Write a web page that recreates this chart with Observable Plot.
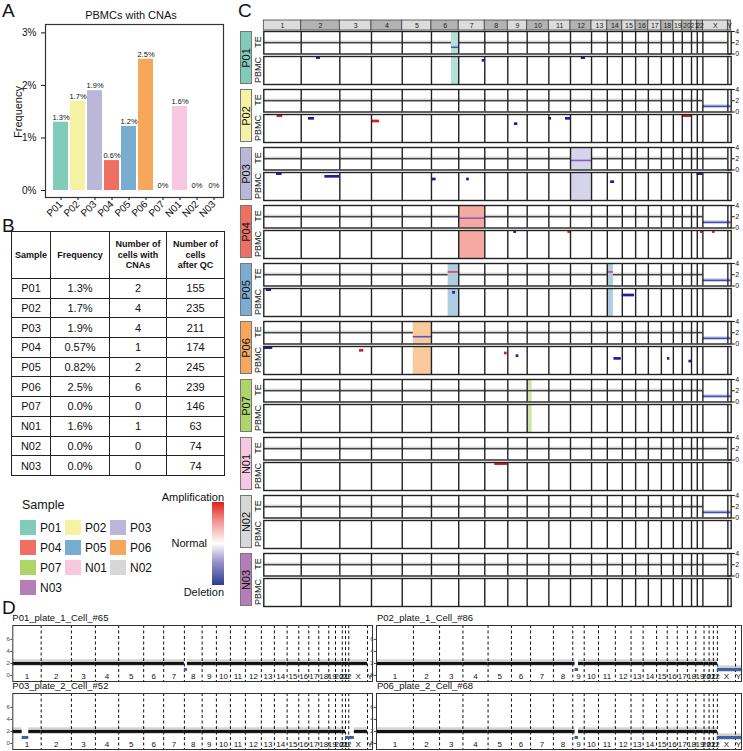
<!DOCTYPE html>
<html><head><meta charset="utf-8">
<script src="https://cdn.jsdelivr.net/npm/d3@7"></script>
<script src="https://cdn.jsdelivr.net/npm/@observablehq/plot@0.6"></script>
<style>
html,body{margin:0;padding:0;background:#fff;}
#root{position:relative;width:743px;height:751px;overflow:hidden;background:#fff;font-family:"Liberation Sans",Arial,sans-serif;color:#111;}
#root svg{max-width:none;}
.t{position:absolute;white-space:nowrap;line-height:1;}
table.tb{position:absolute;border-collapse:collapse;font-family:"Liberation Sans",Arial,sans-serif;table-layout:fixed;}
table.tb td{border:1.5px solid #222;text-align:center;padding:0;color:#111;}
</style></head>
<body><div id="root"></div>
<script>
const FONT = '"Liberation Sans", Arial, sans-serif';
// ---------------- data ----------------
const samples = ["P01","P02","P03","P04","P05","P06","P07","N01","N02","N03"];
const sampleColors = ["#80CBB9","#F6F2A4","#BBB7D9","#EF6F62","#78ACD0","#F7A75C","#AFD46A","#F8C7E0","#D7D7D7","#B67EB8"];
const sexes = ["F","M","F","M","M","M","M","F","M","F"];
const barFreq = [1.3,1.7,1.9,0.57,1.22,2.5,0,1.6,0,0];          // percent (bar heights)
const barLabels = ["1.3%","1.7%","1.9%","0.6%","1.2%","2.5%","0%","1.6%","0%","0%"];
const tableFreq = ["1.3%","1.7%","1.9%","0.57%","0.82%","2.5%","0.0%","1.6%","0.0%","0.0%"];
const tableCells = [2,4,4,1,2,6,0,1,0,0];
const tableQC = [155,235,211,174,245,239,146,63,74,74];
const chroms = ["1","2","3","4","5","6","7","8","9","10","11","12","13","14","15","16","17","18","19","20","21","22","X","Y"];
// panel C chromosome sizes (Mb-like units read from column widths)
const chromSizeC = [247,255,209,203,193,180,172,152,128,143,143,139,104,99,88,84,86,79,59,61,38,37,165,22];
// panel D bins per chromosome (left cells / right cells)
const binsDLeft  = [227,242,192,186,200,160,166,142,114,112,120,128,104,102,93,80,80,80,54,54,26,26,150,40];
const binsDRight = [294,208,186,200,186,152,182,154,91,114,134,125,96,107,85,80,80,67,66,40,34,32,144,48];
// highlighted regions in panel C: [sample, chr, start, end]
const highlightsC = [
  ["P01","6",132,180],["P02","15",0,8],["P03","12",0,139],["P04","7",0,172],
  ["P05","6",110,180],["P05","14",0,40],["P06","5",73,193],["P07","10",0,33]
];
// TE copy-number segments: [sample, chr, start, end, copy number]
const teSegments = [
  ["P01","6",132,180,1.2],["P03","12",0,139,1.7],["P04","7",0,172,1.75],
  ["P05","6",110,180,2.5],["P05","14",0,40,2.5],["P06","5",73,193,1.3]
];
// PBMC single-cell CNAs: [sample, chr, start, end, cell, type]
const pbmcEvents = [
  ["P01","2",101,127,1,"del"],["P01","7",155,172,2,"del"],["P01","12",71,99,1,"del"],
  ["P02","1",88,125,1,"amp"],["P02","2",48,88,2,"del"],["P02","4",5,53,3,"amp"],["P02","9",44,66,4,"del"],
  ["P02","11",2,18,2,"del"],["P02","11",110,143,2,"del"],["P02","20",0,61,1,"amp"],
  ["P03","1",84,121,1,"del"],["P03","2",156,255,2,"del"],["P03","6",5,31,3,"del"],["P03","7",52,70,3,"del"],
  ["P03","14",22,48,4,"del"],["P03","22",0,37,1,"del"],
  ["P04","9",40,58,1,"del"],["P04","11",126,143,1,"amp"],["P04","22",22,37,1,"amp"],["P04","X",64,80,1,"amp"],
  ["P05","1",16,51,1,"del"],["P05","6",140,158,2,"del"],["P05","15",0,81,3,"del"],
  ["P06","1",0,59,1,"del"],["P06","3",130,158,2,"amp"],["P06","8",130,148,3,"amp"],["P06","9",55,73,4,"del"],
  ["P06","14",44,92,5,"del"],["P06","18",40,56,5,"del"],["P06","20",44,61,6,"del"],
  ["N01","8",66,152,1,"amp"]
];
// panel D cells
const dCellNames = ["P01_plate_1_Cell_#65","P02_plate_1_Cell_#86","P03_plate_2_Cell_#52","P06_plate_2_Cell_#68"];
const dCellSex = ["F","M","F","M"];
// panel D segments: [cell, chr, start, end, copy number]
const dSegments = [
  ["P01_plate_1_Cell_#65","8",0,24,1],
  ["P02_plate_1_Cell_#86","9",18,46,1],
  ["P03_plate_2_Cell_#52","1",75,128,1],["P03_plate_2_Cell_#52","22",0,26,1],["P03_plate_2_Cell_#52","X",0,45,1],
  ["P06_plate_2_Cell_#68","9",18,46,1]
];
const teTicks = [0,2,4];
const dTicks = [0,2,4,6];
const legendTitle = "Sample";
const gradientLabels = ["Amplification","Normal","Deletion"];

// ---------------- helpers ----------------
const root = document.getElementById("root");
function put(node, left, top){ const d=document.createElement("div"); d.style.position="absolute"; d.style.left=left+"px"; d.style.top=top+"px"; d.appendChild(node); root.appendChild(d); return d; }
function txt(s, x, y, o={}){
  const d=document.createElement("div"); d.className="t"; d.textContent=s;
  d.style.left=x+"px"; d.style.top=y+"px"; d.style.fontSize=(o.size||10)+"px";
  if(o.weight) d.style.fontWeight=o.weight;
  const ax = o.anchor==="middle"?"-50%":o.anchor==="end"?"-100%":"0";
  d.style.transform=`translate(${ax},-50%)`;
  if(o.rotate) d.style.transform=`translate(-50%,-50%) rotate(${o.rotate}deg)`;
  root.appendChild(d); return d;
}
function chromTable(sizes){ let o=0; return chroms.map((c,k)=>{const r={chr:c,k,x1:o,x2:o+sizes[k],mid:o+sizes[k]/2}; o+=sizes[k]; return r;}); }
function baseCN(chr,sx){ if(chr==="X") return sx==="M"?1:2; if(chr==="Y") return sx==="M"?1:0; return 2; }
function baseline(ct,sx,cuts){
  const out=[];
  ct.forEach(c=>{ const cn=baseCN(c.chr,sx); const size=c.x2-c.x1;
    const cs=cuts.filter(e=>e.chr===c.chr).sort((a,b)=>a.start-b.start); let p=0;
    for(const e of cs){ if(e.start>p) out.push({x1:c.x1+p,x2:c.x1+e.start,cn}); p=Math.max(p,e.end); }
    if(p<size) out.push({x1:c.x1+p,x2:c.x2,cn}); });
  return out;
}
const baseStyle = {background:"transparent", fontFamily:FONT, overflow:"visible", color:"#111"};

// ---------------- panel letters ----------------
txt("A",2,10,{size:19}); txt("B",2,225,{size:19}); txt("C",238,10,{size:19}); txt("D",2,607,{size:19});

// ---------------- panel A ----------------
const barRows = samples.map((s,i)=>({sample:s,freq:barFreq[i]/100,label:barLabels[i]}));
const plotA = Plot.plot({
  width:240, height:235, marginLeft:45, marginRight:17, marginTop:24, marginBottom:38,
  style:{...baseStyle, fontSize:"10px"},
  x:{domain:samples, range:[50.5,223.5], paddingInner:0.12, paddingOuter:0, label:null, tickRotate:-45, tickSize:3, tickPadding:2},
  y:{domain:[-0.00133,0.0316], ticks:[0,0.01,0.02,0.03], tickFormat:d=>Math.round(d*100)+"%", label:null, tickSize:4},
  color:{domain:samples, range:sampleColors},
  marks:[
    Plot.barY(barRows,{x:"sample",y:"freq",fill:"sample"}),
    Plot.text(barRows,{x:"sample",y:"freq",text:"label",dy:-5,fontSize:7.5,fill:"#111"}),
    Plot.frame({stroke:"#333",strokeWidth:1.2})
  ]
});
put(plotA,0,0);
txt("PBMCs with CNAs",131,15,{size:11,anchor:"middle"});
txt("Frequency",18,112,{size:11,rotate:-90});

// ---------------- panel B table ----------------
const tb=document.createElement("table"); tb.className="tb";
tb.style.left="11px"; tb.style.top="231px"; tb.style.width="213px";
const cg=document.createElement("colgroup");
[39,59,57,58].forEach(w=>{const c=document.createElement("col"); c.style.width=w+"px"; cg.appendChild(c);});
tb.appendChild(cg);
const hdr=["Sample","Frequency","Number of<br>cells with<br>CNAs","Number of<br>cells<br>after QC"];
const trh=document.createElement("tr"); trh.style.height="47px";
hdr.forEach(h=>{const td=document.createElement("td"); td.innerHTML=h; td.style.fontWeight="bold"; td.style.fontSize="9px"; td.style.lineHeight="1.15"; trh.appendChild(td);});
tb.appendChild(trh);
samples.forEach((s,i)=>{
  const tr=document.createElement("tr"); tr.style.height="19.7px";
  [s,tableFreq[i],tableCells[i],tableQC[i]].forEach(v=>{const td=document.createElement("td"); td.textContent=v; td.style.fontSize="11px"; tr.appendChild(td);});
  tb.appendChild(tr);
});
root.appendChild(tb);

// ---------------- legend ----------------
txt(legendTitle,22,505,{size:12.5});
samples.forEach((s,i)=>{
  const col=i%3, row=Math.floor(i/3);
  const x=20+col*45, y=520+row*20;
  const sw=document.createElement("div"); sw.style.cssText=`position:absolute;left:${x}px;top:${y}px;width:16px;height:15px;background:${sampleColors[i]};`;
  root.appendChild(sw);
  txt(s,x+20,y+8,{size:12});
});
const gb=document.createElement("div");
gb.style.cssText="position:absolute;left:212px;top:502px;width:12px;height:83px;background:linear-gradient(to bottom,#E0201C 0%,#F08F8A 22%,#FFFFFF 50%,#9A93CC 72%,#2E3C92 100%);";
root.appendChild(gb);
txt(gradientLabels[0],224,497,{size:11,anchor:"end"});
txt(gradientLabels[1],207,543,{size:11,anchor:"end"});
txt(gradientLabels[2],224,592,{size:11,anchor:"end"});

// ---------------- panel C ----------------
const ctC = chromTable(chromSizeC);
const totalC = d3.sum(chromSizeC);
const CX0=263.3, CX1=730.7, SVGL=258, SVGW=485;
const mL=CX0-SVGL, mR=SVGW-(CX1-SVGL);
const boundsC = ctC.slice(1).map(c=>c.x1);
const posC=(chr,p)=>ctC[chroms.indexOf(chr)].x1+p;
// header
const header = Plot.plot({
  width:SVGW, height:12, marginLeft:mL, marginRight:mR, marginTop:1, marginBottom:1,
  style:{...baseStyle,fontSize:"7px"},
  x:{domain:[0,totalC],axis:null}, y:{domain:[0,1],axis:null},
  marks:[
    Plot.rect(ctC,{x1:"x1",x2:"x2",y1:0,y2:1,fill:d=>d.k%2?"#B3B3B3":"#DCDCDC",stroke:"#444",strokeWidth:0.8}),
    Plot.text(ctC,{x:"mid",y:0.5,text:"chr",fontSize:7,fill:"#222"})
  ]
});
put(header,SVGL,19);

const CTOP=31, PITCH=58, TEH=22.5, PBTOP=25, PBH=28;
const pbDomain=[10.8,0.4];
samples.forEach((s,i)=>{
  const top=CTOP+PITCH*i;
  const hl=highlightsC.filter(h=>h[0]===s).map(h=>({x1:posC(h[1],h[2]),x2:posC(h[1],h[3])}));
  const segs=teSegments.filter(e=>e[0]===s).map(e=>({chr:e[1],start:e[2],end:e[3],x1:posC(e[1],e[2]),x2:posC(e[1],e[3]),cn:e[4]}));
  const base=baseline(ctC,sexes[i],segs);
  const bandRows=base.filter(b=>b.cn>0).map(b=>({...b,lo:b.cn-0.3,hi:b.cn+0.3}));
  const te = Plot.plot({
    width:SVGW, height:TEH+8, marginLeft:mL, marginRight:mR, marginTop:4, marginBottom:4,
    style:{...baseStyle,fontSize:"7px"},
    x:{domain:[0,totalC],axis:null}, y:{domain:[0,4]},
    color:{type:"linear",domain:[0,1,1.8,2.5],range:["#3344CC","#3B4FC8","#8A62BC","#E0405A"],clamp:true},
    marks:[
      Plot.rect(hl,{x1:"x1",x2:"x2",y1:0,y2:4,fill:sampleColors[i],fillOpacity:0.6}),
      Plot.rect(bandRows,{x1:"x1",x2:"x2",y1:"lo",y2:"hi",fill:"#D6D6D6"}),
      Plot.ruleY(base.filter(b=>b.cn===2),{y:"cn",x1:"x1",x2:"x2",stroke:"#111",strokeWidth:1}),
      Plot.ruleY(base.filter(b=>b.cn!==2),{y:"cn",x1:"x1",x2:"x2",stroke:"cn",strokeWidth:1.6}),
      Plot.ruleY(segs,{y:"cn",x1:"x1",x2:"x2",stroke:"cn",strokeWidth:1.6}),
      Plot.ruleX(boundsC,{stroke:"#222",strokeWidth:1.4}),
      Plot.frame({stroke:"#222",strokeWidth:1.4}),
      Plot.axisY({anchor:"right",ticks:teTicks,tickFormat:d=>String(d),tickSize:3,tickPadding:1,fontSize:7,label:null})
    ]
  });
  put(te,SVGL,top-4);
  const ev=pbmcEvents.filter(e=>e[0]===s).map(e=>({x1:posC(e[1],e[2]),x2:posC(e[1],e[3]),cell:e[4],type:e[5]}));
  const pb = Plot.plot({
    width:SVGW, height:PBH+2, marginLeft:mL, marginRight:mR, marginTop:1, marginBottom:1,
    style:{...baseStyle,fontSize:"7px"},
    x:{domain:[0,totalC],axis:null}, y:{domain:pbDomain,axis:null},
    color:{domain:["amp","del"],range:["#D81E1E","#1C1CA6"]},
    marks:[
      Plot.rect(hl,{x1:"x1",x2:"x2",y1:pbDomain[0],y2:pbDomain[1],fill:sampleColors[i],fillOpacity:0.6}),
      Plot.rect(ev,{x1:"x1",x2:"x2",y1:d=>d.cell-0.5,y2:d=>d.cell+0.5,fill:"type"}),
      Plot.ruleX(boundsC,{stroke:"#222",strokeWidth:1.4}),
      Plot.frame({stroke:"#222",strokeWidth:1.4})
    ]
  });
  put(pb,SVGL,top+PBTOP-1);
  // labels
  const box=document.createElement("div");
  box.style.cssText=`position:absolute;left:240px;top:${top-0.5}px;width:12px;height:${PBTOP+PBH+0.5}px;background:${sampleColors[i]};box-sizing:border-box;border:0.8px solid #777;`;
  root.appendChild(box);
  txt(s,246,top+(PBTOP+PBH)/2,{size:11,rotate:-90});
  txt("TE",257.5,top+TEH/2,{size:9,rotate:-90});
  txt("PBMC",257.5,top+PBTOP+PBH/2,{size:9,rotate:-90});
});

// ---------------- panel D ----------------
function dPlot(ci, bins, svgLeft, frameL, frameR, frameTop){
  const name=dCellNames[ci], sx=dCellSex[ci];
  const ct=chromTable(bins), total=d3.sum(bins);
  const pos=(chr,p)=>ct[chroms.indexOf(chr)].x1+p;
  const segs=dSegments.filter(e=>e[0]===name).map(e=>({chr:e[1],start:e[2],end:e[3],x1:pos(e[1],e[2]),x2:pos(e[1],e[3]),cn:e[4]}));
  const base=baseline(ct,sx,segs).filter(b=>b.cn>0);
  const band=base.map(b=>({...b,lo:b.cn-0.5,hi:b.cn+0.6}));
  const W=743-svgLeft;
  const p=Plot.plot({
    width:W, height:58, marginLeft:frameL-svgLeft, marginRight:W-(frameR-svgLeft), marginTop:1, marginBottom:1,
    style:{...baseStyle,fontSize:"6px"},
    x:{domain:[0,total],axis:null}, y:{domain:[-1,8.3]},
    marks:[
      Plot.rect(band,{x1:"x1",x2:"x2",y1:"lo",y2:"hi",fill:"#D3D3D3"}),
      Plot.ruleX(ct.slice(1),{x:"x1",stroke:"#111",strokeWidth:1,strokeDasharray:"3,2.5"}),
      Plot.ruleY(base.filter(b=>b.cn===2),{y:"cn",x1:"x1",x2:"x2",stroke:"#111",strokeWidth:3}),
      Plot.ruleY(base.filter(b=>b.cn!==2),{y:"cn",x1:"x1",x2:"x2",stroke:"#3D5FA6",strokeWidth:3}),
      Plot.ruleY(segs,{y:"cn",x1:"x1",x2:"x2",stroke:"#3D5FA6",strokeWidth:3}),
      Plot.text(ct,{x:"mid",y:-0.1,text:"chr",fontSize:8,fill:"#111"}),
      Plot.frame({stroke:"#333",strokeWidth:1}),
      Plot.axisY({ticks:dTicks,tickFormat:d=>String(d),tickSize:2,tickPadding:1,fontSize:6,label:null,color:"#444"})
    ]
  });
  put(p,svgLeft,frameTop-1);
  txt(name,frameL+(ci%2?1:0),frameTop-7,{size:9.5});
}
dPlot(0,binsDLeft,0,12.3,372,625);
dPlot(1,binsDRight,364,376,741,625);
dPlot(2,binsDLeft,0,12.3,372,693);
dPlot(3,binsDRight,364,376,741,693);
</script></body></html>
